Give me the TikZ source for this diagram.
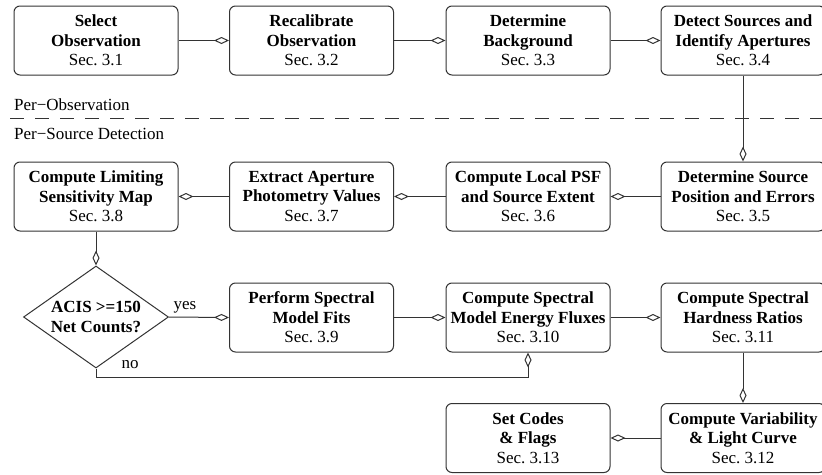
\documentclass[tikz,border=0pt]{standalone}
\usepackage{fontspec}
\setmainfont{Liberation Serif}
\usetikzlibrary{arrows.meta,shapes.geometric}
\begin{document}
\begin{tikzpicture}[x=1pt,y=-1pt,
  every node/.style={font=\fontsize{17}{19.5}\selectfont, text=black},
  stepbox/.style={draw=black!80, line width=1pt, rounded corners=6pt,
    minimum width=164pt, minimum height=69pt, inner sep=0pt, align=center},
  decbox/.style={draw=black!80, line width=1pt, diamond, aspect=1.42,
    minimum width=145pt, minimum height=102pt, inner sep=0pt, align=center},
  flow/.style={draw=black!80, line width=1pt,
    -{Diamond[open, length=15pt, width=7pt]}},
  lbl/.style={inner sep=0pt, anchor=base}
]
\useasboundingbox (0,0) rectangle (822,474);
% row 1
\node[stepbox] (b1) at (96,40.5) {\textbf{Select}\\\textbf{Observation}\\Sec.~3.1};
\node[stepbox] (b2) at (311.5,40.5) {\textbf{Recalibrate}\\\textbf{Observation}\\Sec.~3.2};
\node[stepbox] (b3) at (528,40.5) {\textbf{Determine}\\\textbf{Background}\\Sec.~3.3};
\node[stepbox] (b4) at (743,40.5) {\textbf{Detect Sources and}\\\textbf{Identify Apertures}\\Sec.~3.4};
% separator
\node[lbl, anchor=base west] (pobs) at (14,110) {Per\textminus Observation};
\node[lbl, anchor=base west] (psrc) at (14,139) {Per\textminus Source Detection};
\coordinate (sepl) at (10,118);
\coordinate (sepr) at (822,118);
\draw[black!80, line width=1pt, dash pattern=on 14pt off 11pt] (sepl) -- (sepr);
% row 2
\node[stepbox] (b5) at (743,196.5) {\textbf{Determine Source}\\\textbf{Position and Errors}\\Sec.~3.5};
\node[stepbox] (b6) at (528,196.5) {\textbf{Compute Local PSF}\\\textbf{and Source Extent}\\Sec.~3.6};
\node[stepbox] (b7) at (311.5,196.5) {\textbf{Extract Aperture}\\\textbf{Photometry Values}\\Sec.~3.7};
\node[stepbox] (b8) at (96,196.5) {\textbf{Compute Limiting}\\\textbf{Sensitivity Map}\\Sec.~3.8};
% row 3
\node[decbox] (dec) at (96,317) {\textbf{ACIS >=150}\\\textbf{Net Counts?}};
\node[stepbox] (b9) at (311.5,317.5) {\textbf{Perform Spectral}\\\textbf{Model Fits}\\Sec.~3.9};
\node[stepbox] (b10) at (528,317.5) {\textbf{Compute Spectral}\\\textbf{Model Energy Fluxes}\\Sec.~3.10};
\node[stepbox] (b11) at (743,317.5) {\textbf{Compute Spectral}\\\textbf{Hardness Ratios}\\Sec.~3.11};
% row 4
\node[stepbox] (b12) at (743,438) {\textbf{Compute Variability}\\\textbf{\& Light Curve}\\Sec.~3.12};
\node[stepbox] (b13) at (528,438) {\textbf{Set Codes}\\\textbf{\& Flags}\\Sec.~3.13};
% labels
\node[lbl] (yes) at (185,309) {yes};
\node[lbl] (no) at (130,368) {no};
% connectors
\draw[flow] (b1.east) -- (b2.west);
\draw[flow] (b2.east) -- (b3.west);
\draw[flow] (b3.east) -- (b4.west);
\draw[flow] (b4.south) -- (b5.north);
\draw[flow] (b5.west) -- (b6.east);
\draw[flow] (b6.west) -- (b7.east);
\draw[flow] (b7.west) -- (b8.east);
\draw[flow] (b8.south) -- (dec.north);
\draw[flow] (dec.east) -- (b9.west);
\draw[flow] (b9.east) -- (b10.west);
\draw[flow] (b10.east) -- (b11.west);
\draw[flow] (b11.south) -- (b12.north);
\draw[flow] (b12.west) -- (b13.east);
\coordinate (nocorner) at (96,377);
\draw[flow] (dec.south) -- (nocorner) -| (b10.south);
\end{tikzpicture}
\end{document}
